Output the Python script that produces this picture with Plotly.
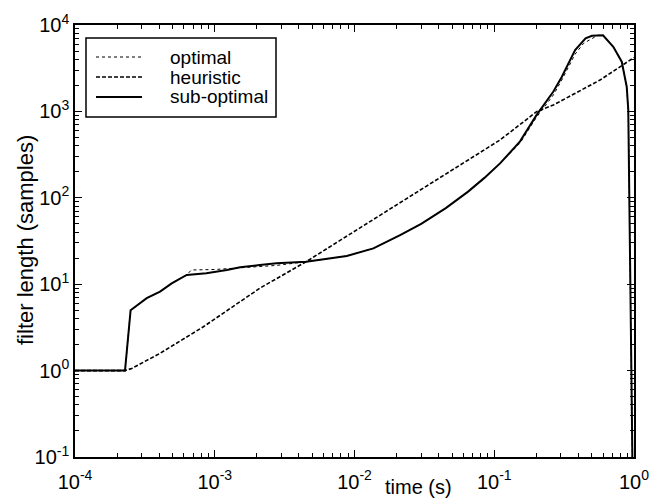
import plotly.graph_objects as go

# time (s)
t_heur = [1e-4, 2.28e-4, 2.55e-4, 4.06e-4, 8.3e-4, 2.1e-3, 4.5e-3, 0.0104, 0.11, 0.201, 0.265, 0.571, 0.797, 1.0]
L_heur = [1, 1, 1.06, 1.585, 3.22, 8.98, 18.2, 42.4, 467, 993, 1186, 2306, 3290, 4200]

t_sub = [1e-4, 2.28e-4, 2.5e-4, 3.26e-4, 4.06e-4, 4.92e-4, 6.3e-4, 8.7e-4, 1.22e-3, 1.52e-3, 2.1e-3, 2.77e-3,
         4.5e-3, 8.8e-3, 0.01365, 0.0212, 0.03, 0.045, 0.065, 0.085, 0.11, 0.153, 0.2, 0.265, 0.304, 0.379,
         0.45, 0.5, 0.6, 0.711, 0.817, 0.887, 0.91, 0.93, 0.95, 0.975]
L_sub = [1, 1, 5.0, 6.9, 8.2, 10.2, 12.8, 13.4, 14.6, 15.7, 16.7, 17.5,
         18.2, 21.2, 26, 37, 50, 76, 118, 170, 250, 450, 900, 1700, 2500, 5140,
         7000, 7500, 7600, 5600, 3760, 1930, 1040, 100, 3, 0.08]

t_opt = [1e-4, 2.28e-4, 2.5e-4, 3.26e-4, 4.06e-4, 4.92e-4, 6.3e-4, 6.8e-4, 1.0e-3, 1.5e-3, 2.1e-3, 2.77e-3,
         4.5e-3, 8.8e-3, 0.01365, 0.0212, 0.03, 0.045, 0.065, 0.085, 0.11, 0.153, 0.2, 0.265, 0.304, 0.379,
         0.435, 0.55, 0.6, 0.711, 0.817, 0.887, 0.91, 0.93, 0.95, 0.975]
L_opt = [1, 1, 5.0, 6.9, 8.2, 10.2, 12.8, 14.6, 14.8, 15.5, 16.2, 16.5,
         18.2, 21.2, 26, 37, 50, 76, 118, 170, 250, 430, 850, 1550, 2300, 4600,
         6120, 7600, 7600, 5600, 3760, 1930, 1040, 100, 3, 0.08]

series_names = ["optimal", "heuristic", "sub-optimal"]

x_tickvals = [1e-4, 1e-3, 1e-2, 1e-1, 1]
x_ticktext = ["10<sup>-4</sup>", "10<sup>-3</sup>", "10<sup>-2</sup>", "10<sup>-1</sup>", "10<sup>0</sup>"]
y_tickvals = [0.1, 1, 10, 100, 1000, 10000]
y_ticktext = ["10<sup>-1</sup>", "10<sup>0</sup>", "10<sup>1</sup>", "10<sup>2</sup>", "10<sup>3</sup>", "10<sup>4</sup>"]

x_minor = [k * 10.0 ** e for e in range(-4, 0) for k in range(2, 10)]
y_minor = [k * 10.0 ** e for e in range(-1, 4) for k in range(2, 10)]

FONT = "Liberation Sans, Arial, Helvetica, sans-serif"

# plot-area frame in pixels (used only to place the hand-drawn legend and titles)
PX_L, PX_R, PY_T, PY_B = 75, 634, 25, 457


def pxx(x):
    return (x - PX_L) / (PX_R - PX_L)


def pxy(y):
    return (PY_B - y) / (PY_B - PY_T)


styles = [dict(color="black", width=1, dash="dot"),
          dict(color="black", width=1.6, dash="4px,2px"),
          dict(color="black", width=2)]

fig = go.Figure()
for name, tx, ly, st in zip(series_names, [t_opt, t_heur, t_sub], [L_opt, L_heur, L_sub], styles):
    fig.add_trace(go.Scatter(x=tx, y=ly, mode="lines", name=name, line=st, showlegend=False))

axis_common = dict(showline=True, linecolor="black", linewidth=1.5, mirror="ticks",
                   ticks="inside", ticklen=7, tickwidth=1.2, tickcolor="black",
                   showgrid=False, zeroline=False, tickmode="array", automargin=False,
                   tickfont=dict(family=FONT, size=20, color="black"))

fig.update_xaxes(type="log", range=[-4, 0], tickvals=x_tickvals, ticktext=x_ticktext,
                 minor=dict(tickvals=x_minor, ticks="inside", ticklen=4, tickcolor="black", tickwidth=1, showgrid=False),
                 ticklabelstandoff=6, **axis_common)
fig.update_yaxes(type="log", range=[-1, 4], tickvals=y_tickvals, ticktext=y_ticktext,
                 minor=dict(tickvals=y_minor, ticks="inside", ticklen=4, tickcolor="black", tickwidth=1, showgrid=False),
                 ticklabelstandoff=0, **axis_common)

fig.add_annotation(text="time (s)", xref="paper", yref="paper", x=pxx(418), y=pxy(487),
                   showarrow=False, font=dict(family=FONT, size=20, color="black"),
                   xanchor="center", yanchor="middle")
fig.add_annotation(text="filter length (samples)", xref="paper", yref="paper", x=pxx(25), y=pxy(240),
                   showarrow=False, textangle=-90, font=dict(family=FONT, size=22, color="black"),
                   xanchor="center", yanchor="middle")

# legend box drawn by hand
fig.add_shape(type="rect", xref="paper", yref="paper", x0=pxx(86), x1=pxx(276), y0=pxy(117), y1=pxy(38),
              line=dict(color="black", width=1.5), fillcolor="white", layer="above")
for i, (name, st) in enumerate(zip(series_names, styles)):
    yy = 57 + 20 * i
    fig.add_shape(type="line", xref="paper", yref="paper", x0=pxx(96), x1=pxx(142), y0=pxy(yy), y1=pxy(yy),
                  line=st, layer="above")
    fig.add_annotation(text=name, xref="paper", yref="paper", x=pxx(168), y=pxy(yy),
                       showarrow=False, xanchor="left", yanchor="middle",
                       font=dict(family=FONT, size=19, color="black"))

fig.update_layout(
    width=650, height=500,
    margin=dict(l=PX_L, r=650 - PX_R, t=PY_T, b=500 - PY_B, autoexpand=False),
    paper_bgcolor="white", plot_bgcolor="white",
    showlegend=False,
)

fig.write_html("out.html")
